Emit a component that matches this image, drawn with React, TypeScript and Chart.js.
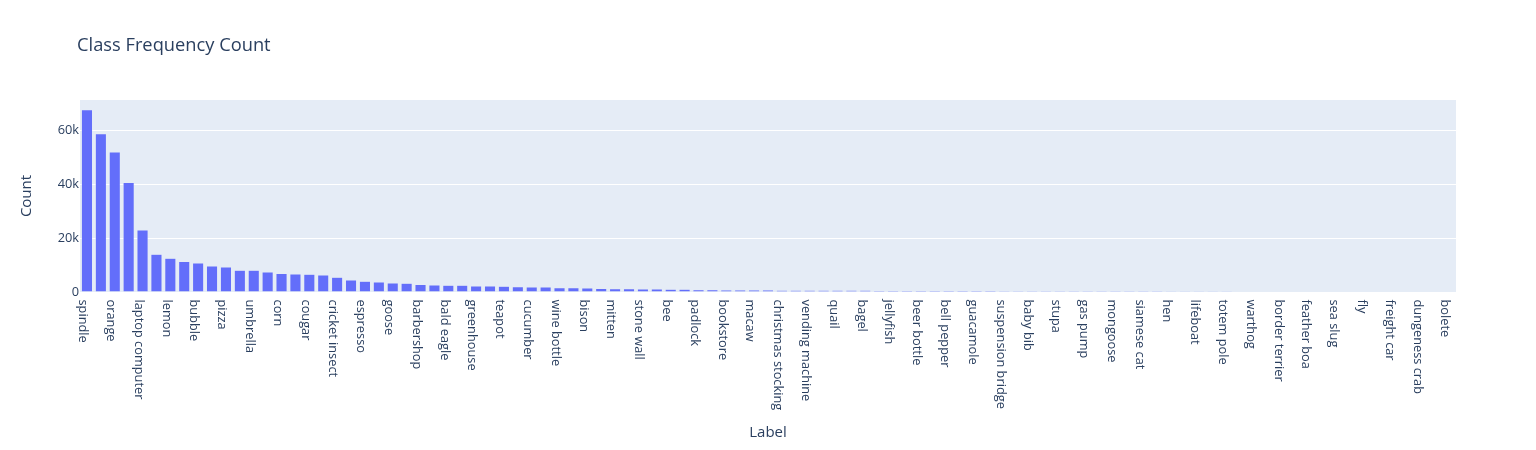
import React, { useEffect, useRef } from "react";
import { Chart, registerables } from "chart.js";

Chart.register(...registerables);

const chartTitle = "Class Frequency Count";
const xAxisTitle = "Label";
const yAxisTitle = "Count";

const categories: string[] = [
  "spindle", "goldfish", "orange", "tabby cat", "laptop computer", "school bus", "lemon", "monarch butterfly",
  "bubble", "brown bear", "pizza", "sports car", "umbrella", "trolleybus", "corn", "pretzel",
  "cougar", "ice cream", "cricket insect", "banana", "espresso", "acorn", "goose", "mashed potato",
  "barbershop", "meat loaf", "bald eagle", "potpie", "greenhouse", "alp", "teapot", "cliff",
  "cucumber", "coral reef", "wine bottle", "lakeside", "bison", "seashore", "mitten", "sulphur butterfly",
  "stone wall", "cockroach", "bee", "grasshopper", "padlock", "walking stick", "bookstore", "mantis",
  "macaw", "dragonfly", "christmas stocking", "centipede", "vending machine", "black widow", "quail", "scorpion",
  "bagel", "trilobite", "jellyfish", "tarantula", "beer bottle", "snail", "bell pepper", "slug",
  "guacamole", "sea cucumber", "suspension bridge", "american lobster", "baby bib", "spiny lobster", "stupa", "king penguin",
  "gas pump", "albatross", "mongoose", "dugong", "siamese cat", "chihuahua", "hen", "yorkshire terrier",
  "lifeboat", "golden retriever", "totem pole", "labrador retriever", "warthog", "german shepherd", "border terrier", "standard poodle",
  "feather boa", "persian cat", "sea slug", "egyptian cat", "fly", "lion", "freight car", "ladybug",
  "dungeness crab", "chimpanzee", "bolete",
];

const counts: number[] = [
  67700, 58800, 52000, 40700, 23000, 14000, 12500, 11300,
  10800, 9700, 9300, 8100, 8100, 7400, 6900, 6700,
  6600, 6300, 5500, 4500, 4000, 3700, 3350, 3250,
  2750, 2600, 2550, 2500, 2250, 2200, 2100, 1980,
  1870, 1830, 1620, 1590, 1480, 1260, 1240, 1220,
  1120, 1100, 1000, 980, 880, 860, 780, 760,
  720, 700, 690, 680, 660, 650, 630, 620,
  610, 600, 570, 560, 540, 520, 510, 490,
  480, 470, 450, 440, 430, 420, 410, 400,
  380, 370, 360, 350, 340, 330, 320, 310,
  300, 290, 280, 270, 260, 250, 240, 235,
  230, 220, 210, 205, 200, 190, 185, 180,
  170, 160, 150,
];

const yTicks: number[] = [0, 20000, 40000, 60000];
const yMax = 71360;

const FONT = "'Open Sans', verdana, arial, sans-serif";
const TEXT = "#2a3f5f";
const PLOT_BG = "#E5ECF6";
const BAR = "#636EFA";

export default function App() {
  const ref = useRef<HTMLCanvasElement | null>(null);

  useEffect(() => {
    document.body.style.margin = "0";
    const canvas = ref.current;
    if (!canvas) return;

    const bgPlugin = {
      id: "plotBg",
      beforeDraw(chart: any) {
        const { ctx, chartArea } = chart;
        ctx.save();
        ctx.fillStyle = PLOT_BG;
        ctx.fillRect(chartArea.left, chartArea.top, chartArea.right - chartArea.left, chartArea.bottom - chartArea.top);
        ctx.restore();
      },
    };

    const textPlugin = {
      id: "plotText",
      afterDraw(chart: any) {
        const { ctx } = chart;
        const xs = chart.scales.x;
        ctx.save();
        ctx.fillStyle = TEXT;
        ctx.font = `18.3px ${FONT}`;
        ctx.textAlign = "left";
        ctx.textBaseline = "alphabetic";
        ctx.fillText(chartTitle, 77, 50.5);

        ctx.font = `12.8px ${FONT}`;
        categories.forEach((lab, i) => {
          if (i % 2 !== 0) return;
          const x = xs.getPixelForValue(i) - 4;
          ctx.save();
          ctx.translate(x, 299.5);
          ctx.rotate(Math.PI / 2);
          ctx.textAlign = "left";
          ctx.textBaseline = "middle";
          ctx.fillText(lab, 0, 0);
          ctx.restore();
        });
        ctx.restore();
      },
    };

    const chart = new Chart(canvas, {
      type: "bar",
      data: {
        labels: categories,
        datasets: [
          {
            label: yAxisTitle,
            data: counts,
            backgroundColor: BAR,
            borderColor: PLOT_BG,
            borderWidth: 0.5,
            barPercentage: 0.8,
            categoryPercentage: 1,
          },
        ],
      },
      options: {
        responsive: false,
        animation: false,
        layout: { padding: { left: 0, right: 80, top: 100, bottom: 0 } },
        plugins: {
          legend: { display: false },
          title: { display: false },
          tooltip: { enabled: false },
        },
        scales: {
          x: {
            grid: { display: false },
            border: { display: false },
            ticks: { display: false },
            title: {
              display: true,
              text: xAxisTitle,
              color: TEXT,
              font: { family: FONT, size: 15 },
              padding: { top: 0, bottom: 8 },
            },
            afterFit(scale: any) {
              scale.height = 158;
            },
          },
          y: {
            min: 0,
            max: yMax,
            grid: { color: "#ffffff", lineWidth: 1, drawTicks: false },
            border: { display: false },
            afterBuildTicks(scale: any) {
              scale.ticks = yTicks.map((v) => ({ value: v }));
            },
            ticks: {
              padding: 1,
              color: TEXT,
              font: { family: FONT, size: 12.8 },
              callback: (v: any) => (Number(v) === 0 ? "0" : `${Number(v) / 1000}k`),
            },
            title: {
              display: true,
              text: yAxisTitle,
              color: TEXT,
              font: { family: FONT, size: 15 },
              padding: { top: 18, bottom: 0 },
            },
            afterFit(scale: any) {
              scale.width = 80;
            },
          },
        },
      },
      plugins: [bgPlugin, textPlugin],
    });

    return () => chart.destroy();
  }, []);

  return (
    <div style={{ width: 1536, height: 450 }}>
      <canvas ref={ref} width={1536} height={450} />
    </div>
  );
}
